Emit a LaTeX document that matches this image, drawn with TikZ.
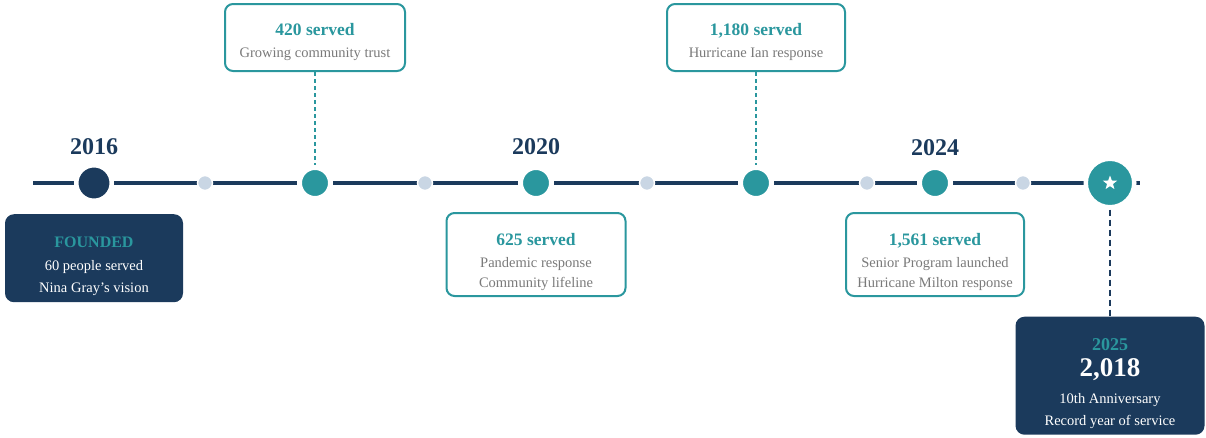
\documentclass[tikz,border=0pt]{standalone}
\usepackage{fontspec}
\setmainfont{Liberation Serif}
\usetikzlibrary{positioning,shapes.geometric}
\definecolor{marino}{HTML}{1B3A5C}
\definecolor{verde}{HTML}{2A979E}
\definecolor{claro}{HTML}{C9D6E4}
\definecolor{gris}{HTML}{7A7A7A}
\tikzset{
  linea/.style={draw=marino,line width=4pt},
  hito/.style={circle,fill=verde,draw=white,line width=5pt,minimum size=31pt,inner sep=0pt},
  grande/.style={circle,fill=marino,draw=white,line width=4.5pt,minimum size=35.5pt,inner sep=0pt},
  estrellado/.style={circle,fill=verde,draw=white,line width=4.5pt,minimum size=48.5pt,inner sep=0pt},
  estrella/.style={star,star points=5,star point ratio=2.4,fill=white,minimum size=15pt,inner sep=0pt},
  puntito/.style={circle,fill=claro,draw=white,line width=1.5pt,minimum size=15pt,inner sep=0pt},
  anio/.style={text=marino,font=\fontsize{24}{26}\selectfont\bfseries},
  caja/.style={draw=verde,line width=2pt,rounded corners=8pt,fill=white,align=center,
    minimum width=#1,text=gris,font=\fontsize{14.5}{20}\selectfont},
  cajaosc/.style={fill=marino,rounded corners=9pt,align=center,text=white,
    minimum width=#1,font=\fontsize{14.5}{22}\selectfont},
  guion/.style={draw=verde,line width=1.2pt,dash pattern=on 4pt off 3pt},
  guionosc/.style={draw=marino,line width=2.5pt,dash pattern=on 6pt off 4pt}
}
\newcommand{\titulo}[1]{{\color{verde}\bfseries\fontsize{17.5}{20}\selectfont #1}}

\begin{document}
\begin{tikzpicture}[x=1pt,y=-1pt]
	\useasboundingbox (0,0) rectangle (1206,437);
	% eje
	\coordinate (ini) at (33,183);
	\coordinate (fin) at (1140,183);
	\draw[linea] (ini) -- (fin);

	\node[grande] (c2016) at (94,183) {};
	\foreach \X/\Nom in {315/c420,536/c625,756/c1180,935/c1561} {
		\node[hito] (\Nom) at (\X,183) {};
	}
	\foreach \X in {205,425,647,867,1023} {
		\node[puntito] (p\X) at (\X,183) {};
	}
	\node[estrellado] (c2025) at (1110,183) {};
	\node[estrella] (star) at (c2025) {};

	\node[anio] (y2016) at (94,147) {2016};
	\node[anio] (y2020) at (536,147) {2020};
	\node[anio] (y2024) at (935,148) {2024};

	\node[cajaosc=178pt,minimum height=88pt,below=11pt of c2016] (b2016)
		{\rule{0pt}{26pt}{\color{verde}\bfseries\fontsize{16}{18}\selectfont FOUNDED}\\[1pt]60 people served\\Nina Gray's vision};
	\node[caja=180pt,minimum height=67pt,above=93pt of c420] (b420)
		{\rule{0pt}{22pt}\titulo{420 served}\\[2pt]Growing community trust};
	\node[caja=179pt,minimum height=83pt,below=11pt of c625] (b625)
		{\rule{0pt}{28pt}\titulo{625 served}\\[2pt]Pandemic response\\Community lifeline};
	\node[caja=178pt,minimum height=67pt,above=93pt of c1180] (b1180)
		{\rule{0pt}{22pt}\titulo{1,180 served}\\[2pt]Hurricane Ian response};
	\node[caja=178pt,minimum height=83pt,below=11pt of c1561] (b1561)
		{\rule{0pt}{28pt}\titulo{1,561 served}\\[2pt]Senior Program launched\\Hurricane Milton response};
	\node[cajaosc=189pt,minimum height=118pt,below=107pt of c2025] (b2025)
		{\rule{0pt}{28pt}{\color{verde}\bfseries\fontsize{18}{20}\selectfont 2025}\\[4pt]
		 {\bfseries\fontsize{27}{28}\selectfont 2,018}\\[5pt]
		 10th Anniversary\\Record year of service};

	\draw[guion] (b420) -- (c420);
	\draw[guion] (b1180) -- (c1180);
	\draw[guionosc] (c2025) -- (b2025);
\end{tikzpicture}
\end{document}
